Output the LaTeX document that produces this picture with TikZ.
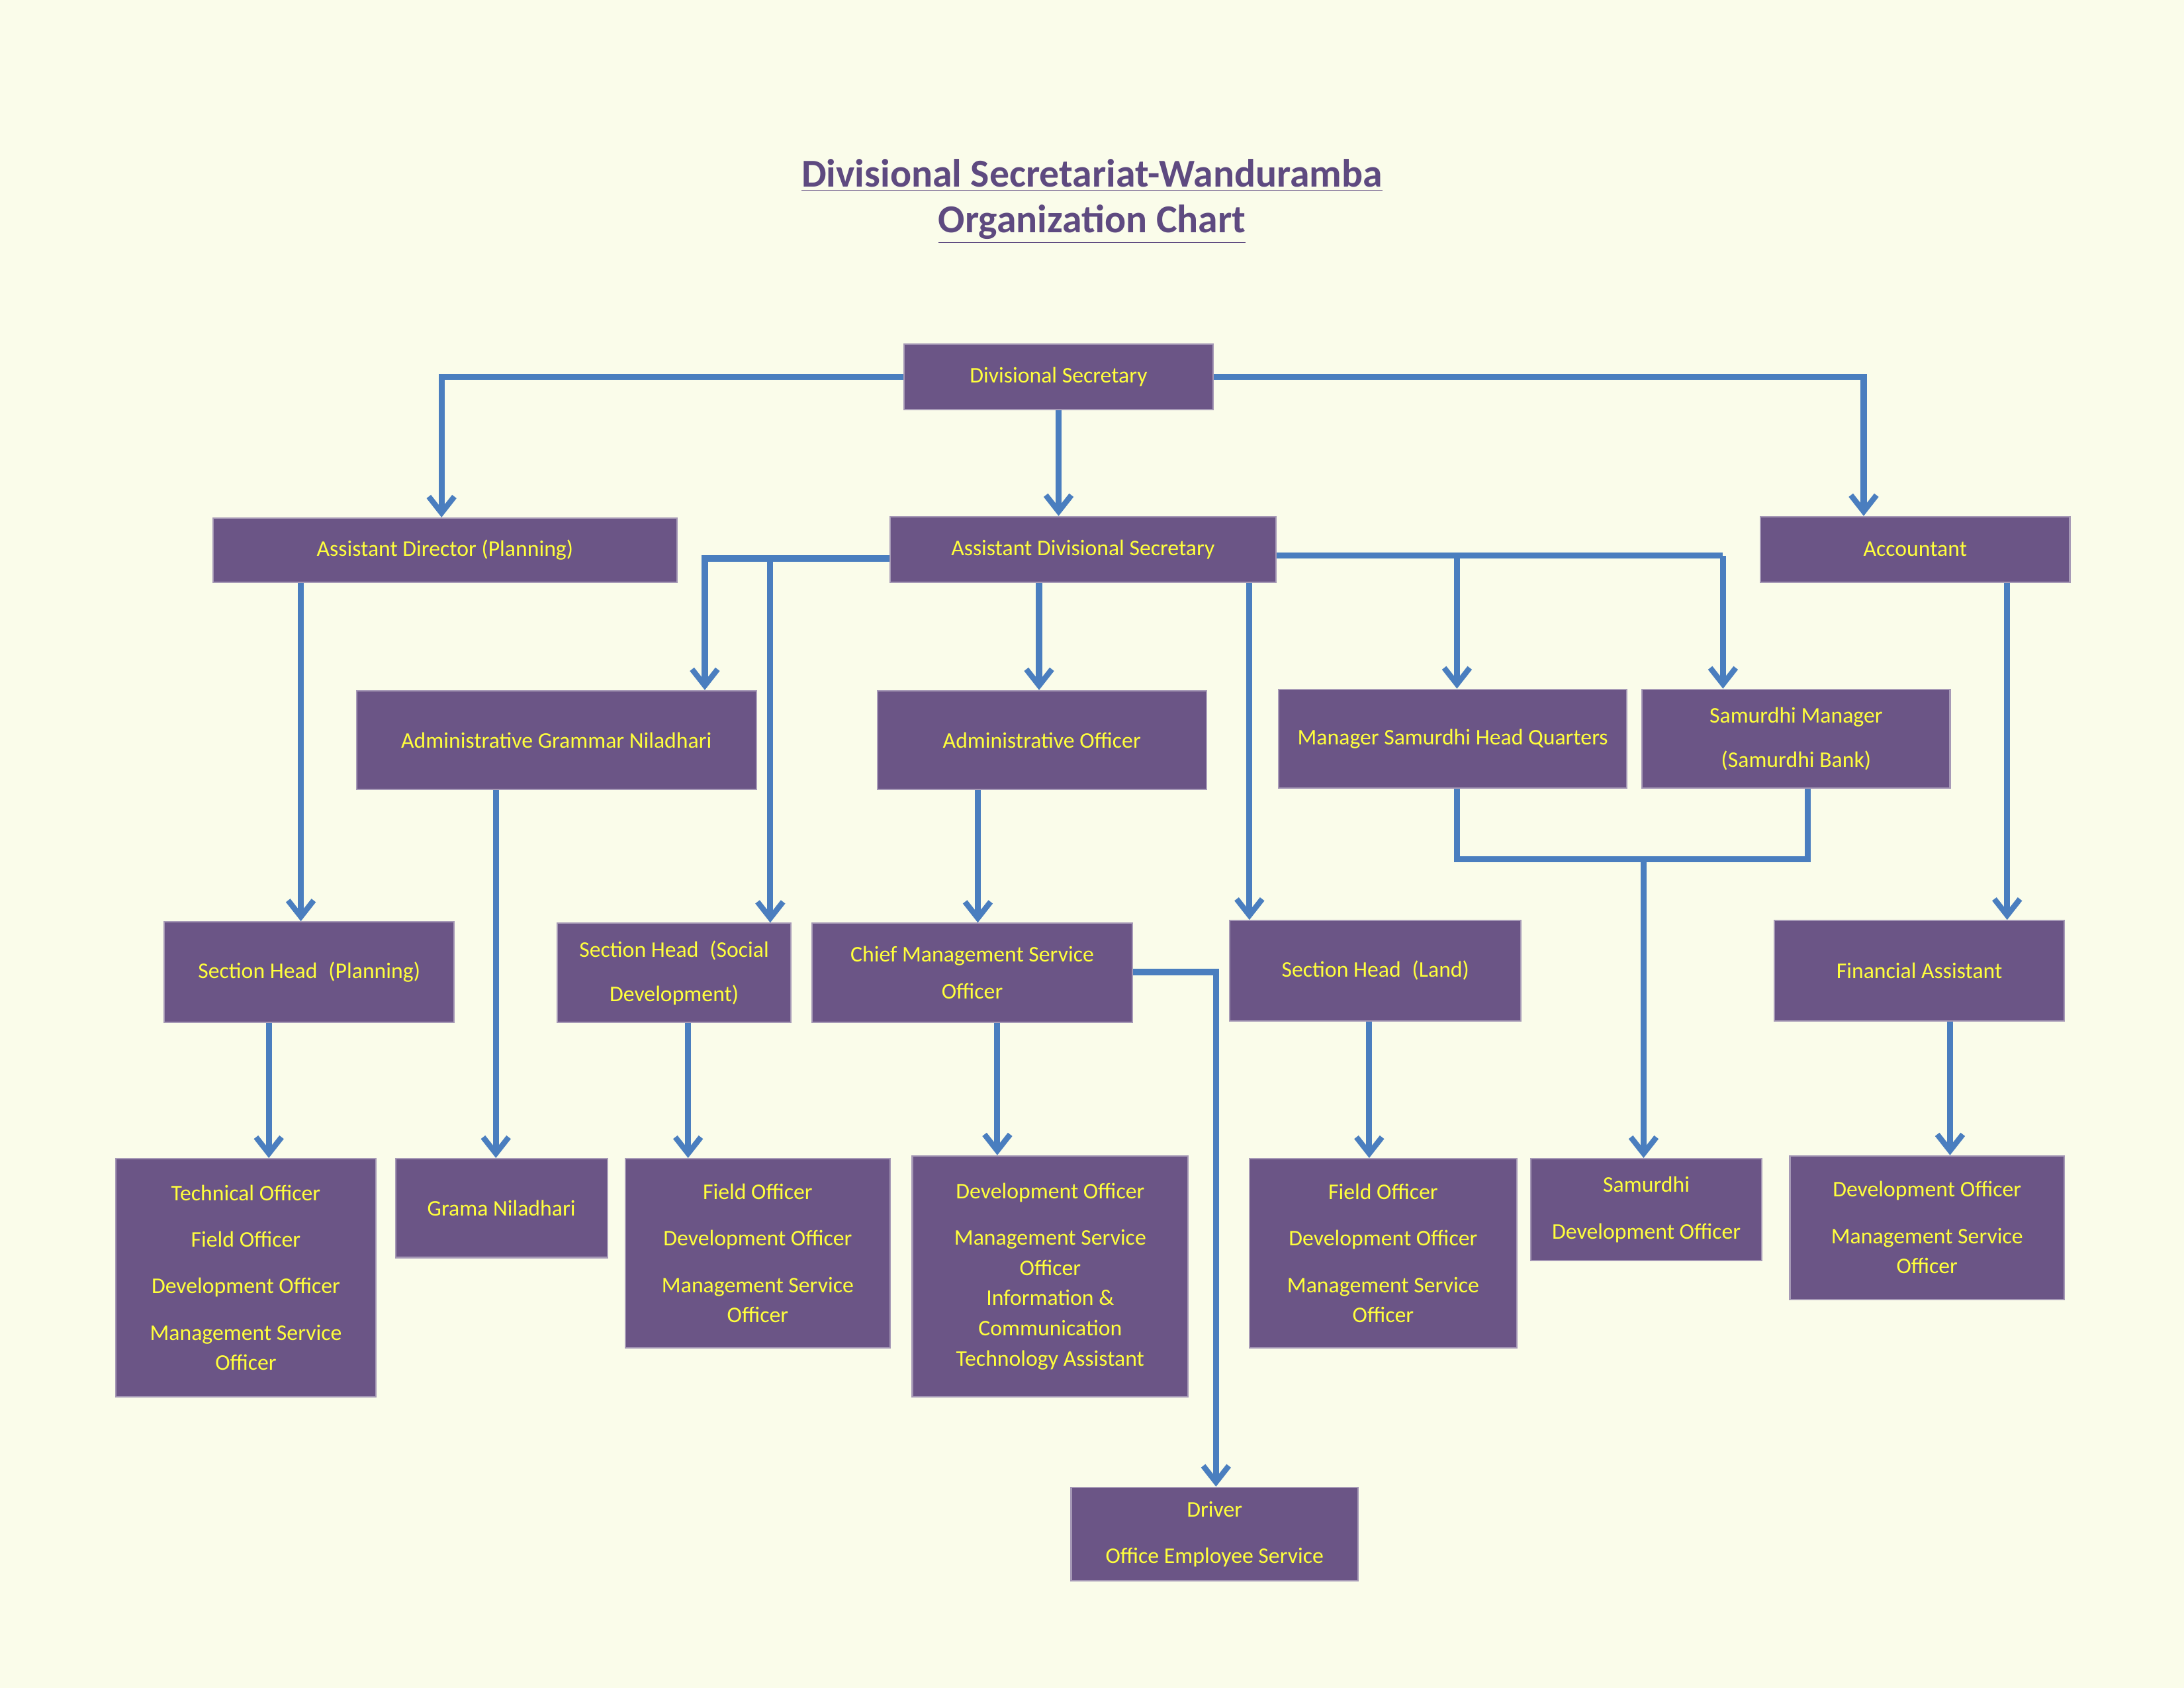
\documentclass[tikz,border=0pt]{standalone}
\usepackage{fontspec}
\setmainfont{Carlito}
\usetikzlibrary{arrows.meta}
\definecolor{bg}{HTML}{FAFCEA}
\definecolor{box}{HTML}{6B5586}
\definecolor{txt}{HTML}{FFFF3C}
\definecolor{ln}{HTML}{4A7EBF}
\definecolor{ttl}{HTML}{5E4A80}
\begin{document}
\begin{tikzpicture}[x=0.021046cm,y=-0.021046cm,
 b/.style={fill=box,draw=box!60!white,line width=0.6pt,text=txt,font=\fontsize{9.6}{13}\selectfont,align=center,inner sep=0pt},
 arr/.style={draw=ln,line width=2.6pt,-{Straight Barb[length=7pt,width=11pt,line width=2.4pt]}},
 ln/.style={draw=ln,line width=2.6pt}]
\fill[bg] (0,0) rectangle (1568,1212);
\useasboundingbox (0,0) rectangle (1568,1212);
\node[text=ttl,font=\fontsize{17}{20}\selectfont\bfseries] (t1) at (784,126) {\underline{Divisional Secretariat-Wanduramba}};
\node[text=ttl,font=\fontsize{17}{20}\selectfont\bfseries] (t2) at (784,161) {\underline{Organization Chart}};
\newcommand{\bx}[6]{\node[b,minimum width={(#4-#2)*0.021046cm},minimum height={(#5-#3)*0.021046cm}] (#1) at ({(#2+#4)/2},{(#3+#5)/2}) {#6};}
\bx{ds}{649}{247}{871}{294}{Divisional Secretary}
\bx{adp}{153}{372}{486}{418}{Assistant Director (Planning)}
\bx{ads}{639}{371}{916}{418}{Assistant Divisional Secretary}
\bx{acc}{1264}{371}{1486}{418}{Accountant}
\bx{agn}{256}{496}{543}{567}{Administrative Grammar Niladhari}
\bx{ao}{630}{496}{866}{567}{Administrative Officer}
\bx{mshq}{918}{495}{1168}{566}{Manager Samurdhi Head Quarters}
\bx{sm}{1179}{495}{1400}{566}{Samurdhi Manager\\[6pt](Samurdhi Bank)}
\bx{shp}{118}{662}{326}{734}{Section Head\enspace(Planning)}
\bx{shsd}{400}{663}{568}{734}{Section Head\enspace(Social\\[6pt]Development)}
\bx{cmso}{583}{663}{813}{734}{Chief Management Service\\[3pt]Officer}
\bx{shl}{883}{661}{1092}{733}{Section Head\enspace(Land)}
\bx{fa}{1274}{661}{1482}{733}{Financial Assistant}
\bx{to}{83}{832}{270}{1003}{Technical Officer\\[7pt]Field Officer\\[7pt]Development Officer\\[7pt]Management Service\\Officer}
\bx{gn}{284}{832}{436}{903}{Grama Niladhari}
\bx{fo1}{449}{832}{639}{968}{Field Officer\\[7pt]Development Officer\\[7pt]Management Service\\Officer}
\bx{do}{655}{830}{853}{1003}{Development Officer\\[7pt]Management Service\\Officer\\Information \&\\Communication\\Technology Assistant}
\bx{fo2}{897}{832}{1089}{968}{Field Officer\\[7pt]Development Officer\\[7pt]Management Service\\Officer}
\bx{sam}{1099}{832}{1265}{905}{Samurdhi\\[7pt]Development Officer}
\bx{do2}{1285}{830}{1482}{933}{Development Officer\\[7pt]Management Service\\Officer}
\bx{drv}{769}{1068}{975}{1135}{Driver\\[7pt]Office Employee Service}
% connectors
\draw[arr] (ds.west) -- (317,0 |- ds.west) -- (317,0 |- adp.north);
\draw[arr] (ds.south) -- (760,0 |- ads.north);
\draw[arr] (ds.east) -- (1338,0 |- ds.east) -- (1338,0 |- acc.north);
\draw[arr] (216,0 |- adp.south) -- (216,0 |- shp.north);
\draw[arr] (ads.west |- 0,401) -- (506,401) -- (506,0 |- agn.north);
\draw[arr] (553,401) -- (553,0 |- shsd.north);
\draw[arr] (746,0 |- ads.south) -- (746,0 |- ao.north);
\draw[ln] (ads.east |- 0,399) -- (1237,399);
\draw[arr] (1046,399) -- (1046,0 |- mshq.north);
\draw[arr] (1237,399) -- (1237,0 |- sm.north);
\draw[arr] (897,0 |- ads.south) -- (897,0 |- shl.north);
\draw[arr] (1441,0 |- acc.south) -- (1441,0 |- fa.north);
\draw[arr] (356,0 |- agn.south) -- (356,0 |- gn.north);
\draw[arr] (702,0 |- ao.south) -- (702,0 |- cmso.north);
\draw[ln] (1046,0 |- mshq.south) -- (1046,617) -- (1298,617) -- (1298,0 |- sm.south);
\draw[arr] (1180,617) -- (1180,0 |- sam.north);
\draw[arr] (193,0 |- shp.south) -- (193,0 |- to.north);
\draw[arr] (494,0 |- shsd.south) -- (494,0 |- fo1.north);
\draw[arr] (716,0 |- cmso.south) -- (716,0 |- do.north);
\draw[arr] (cmso.east |- 0,698) -- (873,698) -- (873,0 |- drv.north);
\draw[arr] (983,0 |- shl.south) -- (983,0 |- fo2.north);
\draw[arr] (1400,0 |- fa.south) -- (1400,0 |- do2.north);
\end{tikzpicture}
\end{document}
